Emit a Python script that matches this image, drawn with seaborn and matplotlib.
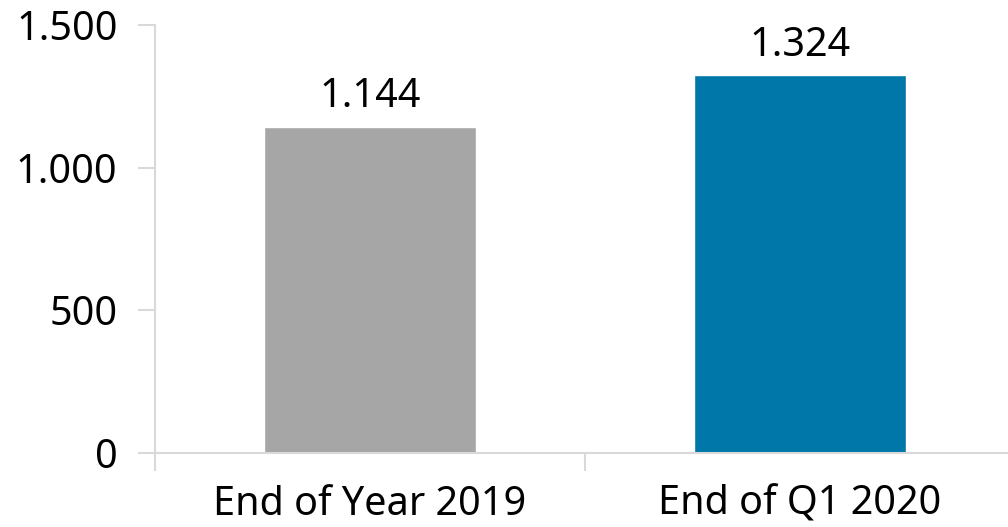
import matplotlib
matplotlib.use("Agg")
import matplotlib.pyplot as plt
import seaborn as sns
import pandas as pd
from matplotlib.ticker import FuncFormatter

categories = ["End of Year 2019", "End of Q1 2020"]
values = [1144, 1324]
colors = ["#A6A6A6", "#0077A9"]
yticks = [0, 500, 1000, 1500]

sns.set_theme(style="white")
plt.rcParams['font.family'] = ['Noto Sans', 'DejaVu Sans']

df = pd.DataFrame({"cat": categories, "val": values})

fig = plt.figure(figsize=(10.08, 5.27), dpi=100)
ax = fig.add_axes([155/1008, (527-453)/527, 860/1008, 428/527])

sns.barplot(data=df, x="cat", y="val", hue="cat", palette=colors, width=0.495,
            ax=ax, legend=False, saturation=1)

fmt = lambda v: f"{int(v):,}".replace(",", ".")
ax.set_ylim(0, 1500)
ax.set_xlim(-0.5, 1.5)
ax.set_yticks(yticks)
ax.yaxis.set_major_formatter(FuncFormatter(lambda v, p: fmt(v)))
ax.set_xticks([0, 1])
ax.set_xticklabels(categories)
ax.set_xticks([-0.5, 0.5, 1.5], minor=True)
ax.set_xlabel("")
ax.set_ylabel("")

for s in ["top", "right"]:
    ax.spines[s].set_visible(False)
for s in ["left", "bottom"]:
    ax.spines[s].set_color("#D9D9D9")
    ax.spines[s].set_linewidth(1.5)

ax.tick_params(axis="y", which="major", length=12, width=1.5, color="#D9D9D9",
               direction="out", left=True, labelsize=28.5, pad=15, labelcolor="black")
ax.tick_params(axis="x", which="major", length=0, labelsize=28.5, pad=23, labelcolor="black")
ax.tick_params(axis="x", which="minor", length=13, width=1.5, color="#D9D9D9",
               direction="out", bottom=True)

for i, v in enumerate(values):
    ax.annotate(fmt(v), (i, v), xytext=(0, 14), textcoords="offset points",
                ha="center", va="baseline", fontsize=28.5, color="black")

fig.savefig("out.png", dpi=100)
